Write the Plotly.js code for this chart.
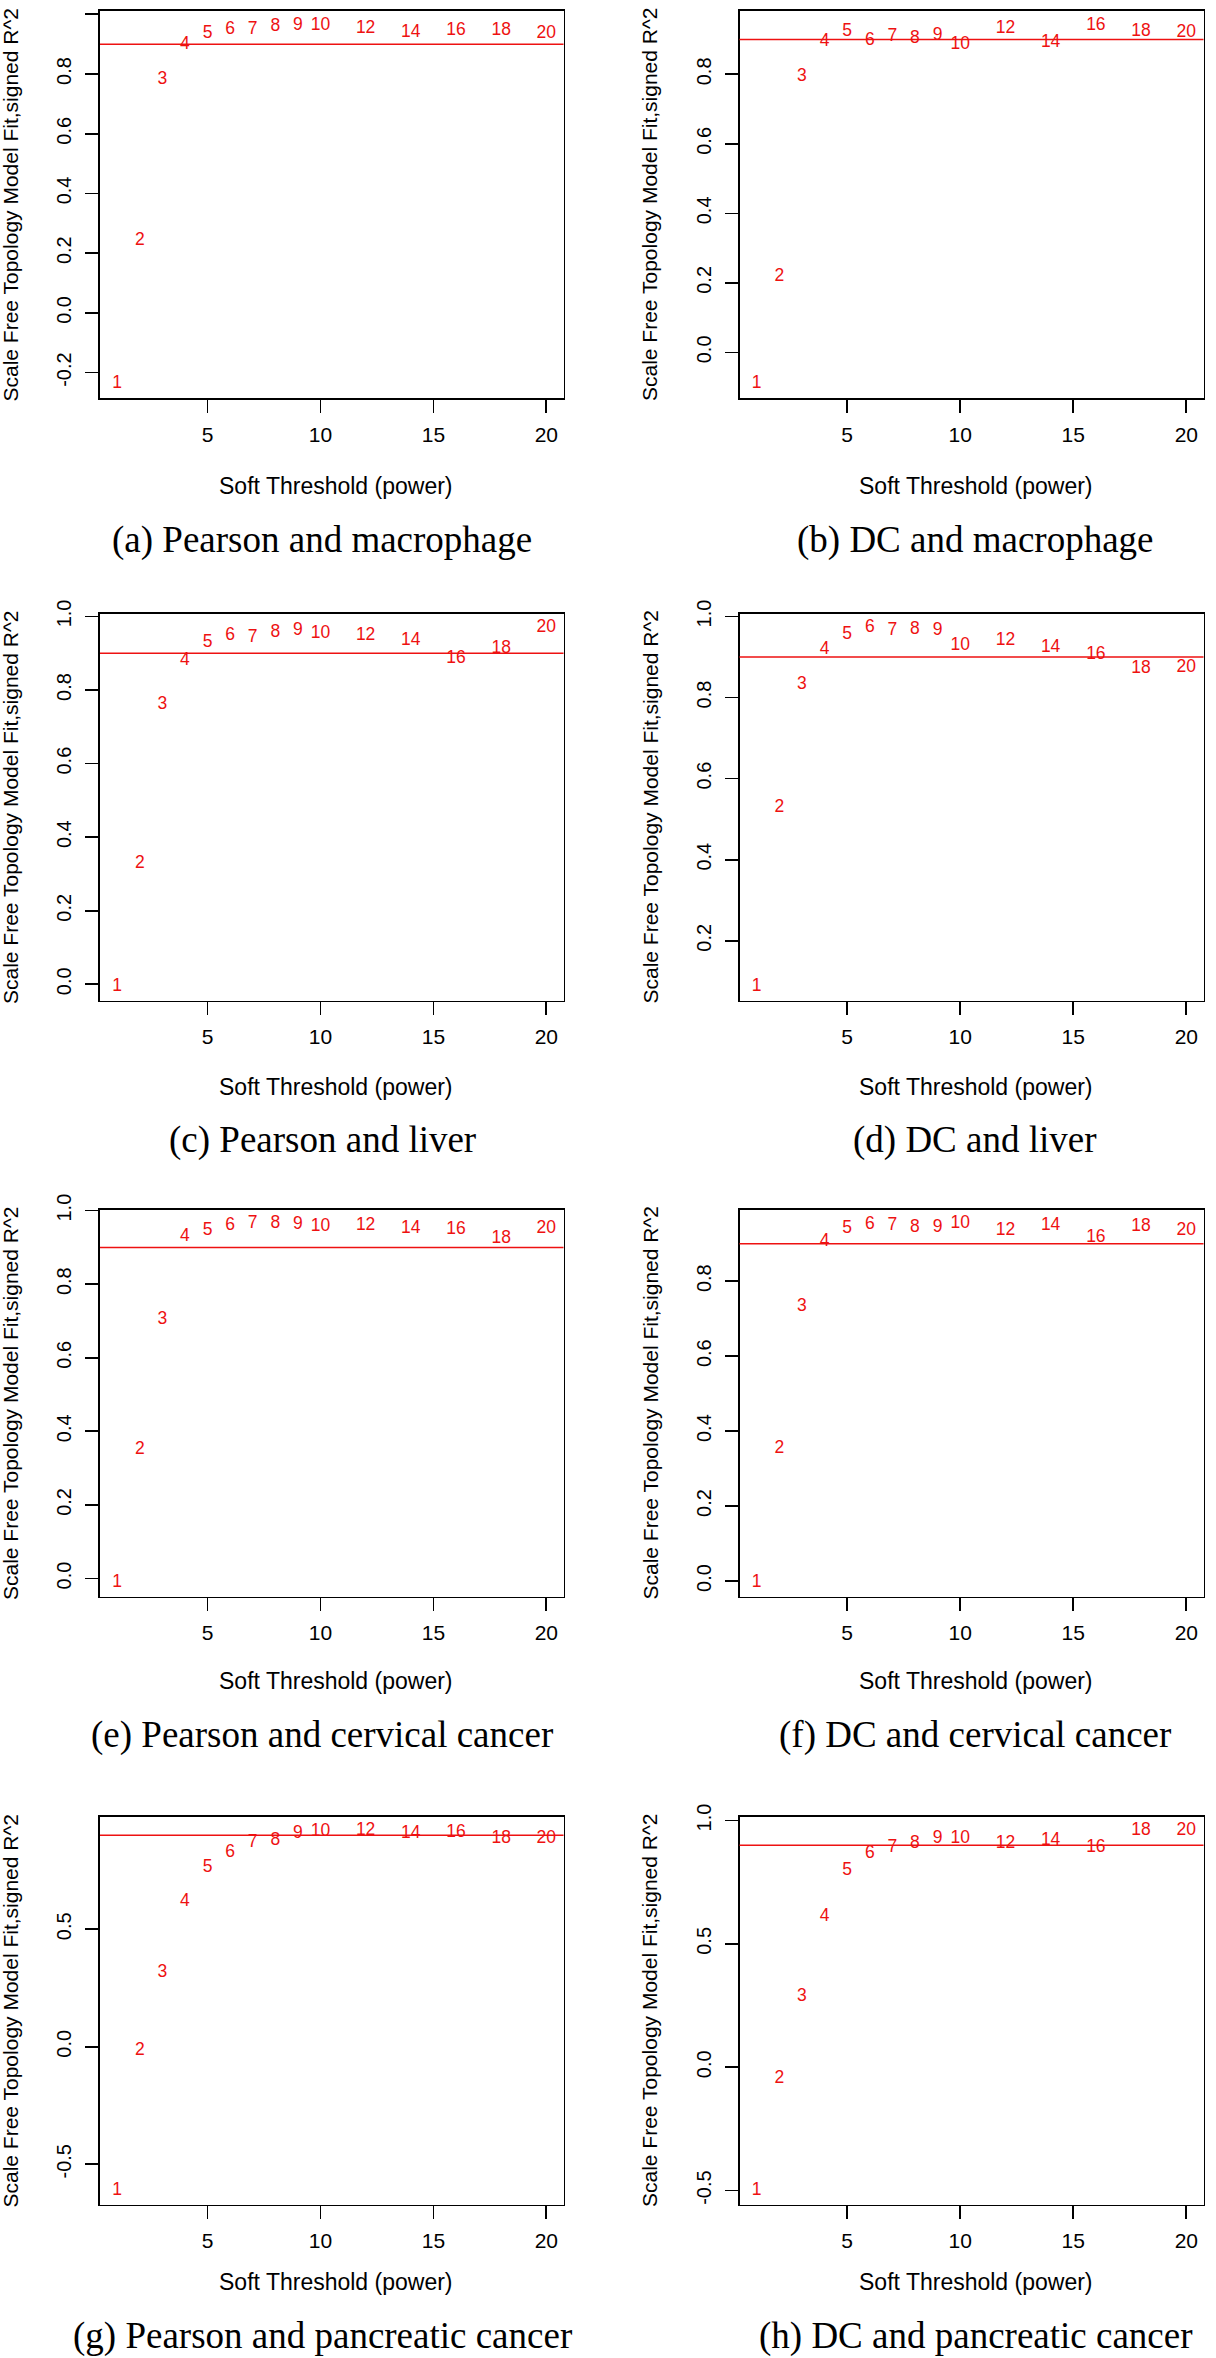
<!DOCTYPE html>
<html>
<head>
<meta charset="utf-8">
<script src="https://cdn.plot.ly/plotly-3.0.1.min.js"></script>
<style>
  html, body { margin: 0; padding: 0; background: #ffffff; }
  #chart { width: 1216px; height: 2358px; }
</style>
</head>
<body>
<div id="chart"></div>
<script>
// ---------------- data ----------------
const powers = [1, 2, 3, 4, 5, 6, 7, 8, 9, 10, 12, 14, 16, 18, 20];
const threshold = 0.9;

const r2PearsonMacrophage  = [-0.237, 0.243, 0.782, 0.899, 0.936, 0.948, 0.948, 0.957, 0.961, 0.963, 0.951, 0.940, 0.946, 0.946, 0.936];
const r2DCMacrophage       = [-0.090, 0.218, 0.793, 0.893, 0.923, 0.896, 0.909, 0.904, 0.911, 0.885, 0.932, 0.890, 0.941, 0.922, 0.920];
const r2PearsonLiver       = [-0.005, 0.327, 0.760, 0.880, 0.928, 0.949, 0.943, 0.955, 0.961, 0.952, 0.949, 0.935, 0.885, 0.912, 0.969];
const r2DCLiver            = [ 0.088, 0.529, 0.832, 0.919, 0.955, 0.972, 0.964, 0.968, 0.966, 0.928, 0.941, 0.924, 0.906, 0.872, 0.873];
const r2PearsonCervical    = [-0.010, 0.351, 0.704, 0.929, 0.945, 0.958, 0.964, 0.964, 0.961, 0.956, 0.958, 0.950, 0.948, 0.924, 0.951];
const r2DCCervical         = [-0.003, 0.354, 0.733, 0.905, 0.941, 0.951, 0.949, 0.944, 0.942, 0.953, 0.934, 0.949, 0.915, 0.946, 0.934];
const r2PearsonPancreatic  = [-0.610, -0.015, 0.314, 0.618, 0.761, 0.826, 0.867, 0.878, 0.907, 0.915, 0.919, 0.907, 0.911, 0.886, 0.886];
const r2DCPancreatic       = [-0.498, -0.048, 0.285, 0.610, 0.796, 0.865, 0.889, 0.907, 0.926, 0.926, 0.907, 0.918, 0.889, 0.958, 0.958];

const xTicks = [5, 10, 15, 20];
const xTickText = ["5", "10", "15", "20"];

const yTicksA = [-0.2, 0.0, 0.2, 0.4, 0.6, 0.8, 1.0];
const yTicksB = [0.0, 0.2, 0.4, 0.6, 0.8];
const yTicksC = [0.0, 0.2, 0.4, 0.6, 0.8, 1.0];
const yTicksD = [0.2, 0.4, 0.6, 0.8, 1.0];
const yTicksE = [0.0, 0.2, 0.4, 0.6, 0.8, 1.0];
const yTicksF = [0.0, 0.2, 0.4, 0.6, 0.8];
const yTicksG = [-0.5, 0.0, 0.5];
const yTicksH = [-0.5, 0.0, 0.5, 1.0];

const captions = [
  "(a) Pearson and macrophage", "(b) DC and macrophage",
  "(c) Pearson and liver", "(d) DC and liver",
  "(e) Pearson and cervical cancer", "(f) DC and cervical cancer",
  "(g) Pearson and pancreatic cancer", "(h) DC and pancreatic cancer"
];
const xTitle = "Soft Threshold (power)";
const yTitle = "Scale Free Topology Model Fit,signed R^2";

// ---------------- layout geometry (px) ----------------
const W = 1216, H = 2358;
const colBox = [[100, 563.5], [739.5, 1203.5]];
const rowBox = [[11, 398], [613.5, 1000.5], [1209.5, 1596.5], [1816.5, 2204.5]];
const xTitleGap = [88, 87, 84, 77];
const captionGap = [142, 139, 138, 131];
const captionX = [322, 975];

const panels = [
  {y: r2PearsonMacrophage, ticks: yTicksA},
  {y: r2DCMacrophage, ticks: yTicksB},
  {y: r2PearsonLiver, ticks: yTicksC},
  {y: r2DCLiver, ticks: yTicksD},
  {y: r2PearsonCervical, ticks: yTicksE},
  {y: r2DCCervical, ticks: yTicksF},
  {y: r2PearsonPancreatic, ticks: yTicksG},
  {y: r2DCPancreatic, ticks: yTicksH}
];

const sans = "Liberation Sans, Arial, Helvetica, sans-serif";
const serif = "Liberation Serif, Times New Roman, serif";

function rLabel(v) { return v.toFixed(1).replace("\u2212", "-"); }

const traces = [];
const layout = {
  width: W, height: H,
  margin: {l: 0, r: 0, t: 0, b: 0},
  paper_bgcolor: "#ffffff",
  plot_bgcolor: "#ffffff",
  showlegend: false,
  font: {family: sans, color: "#000000"},
  annotations: [],
  shapes: []
};

panels.forEach((p, i) => {
  const row = Math.floor(i / 2), col = i % 2;
  const sfx = i === 0 ? "" : String(i + 1);
  const xa = "x" + sfx, ya = "y" + sfx;
  const [l, r] = colBox[col];
  const [t, b] = rowBox[row];

  // R-style range: data range extended by 4%
  const xmin = Math.min(...powers), xmax = Math.max(...powers);
  const ymin = Math.min(...p.y), ymax = Math.max(...p.y);
  const dx = (xmax - xmin) * 0.04, dy = (ymax - ymin) * 0.04;

  traces.push({
    type: "scatter", mode: "text",
    x: powers, y: p.y,
    text: powers.map(String),
    textposition: "middle center",
    textfont: {family: sans, size: 17.5, color: "#ee1111"},
    cliponaxis: false,
    hoverinfo: "skip",
    xaxis: xa, yaxis: ya
  });

  const axCommon = {
    showline: true, mirror: true, linecolor: "#000000", linewidth: 1.7,
    ticks: "outside", ticklen: 13, tickwidth: 1.7, tickcolor: "#000000",
    showgrid: false, zeroline: false, fixedrange: true
  };

  layout["xaxis" + sfx] = Object.assign({}, axCommon, {
    domain: [l / W, r / W],
    range: [xmin - dx, xmax + dx],
    anchor: ya,
    tickmode: "array", tickvals: xTicks, ticktext: xTickText,
    tickfont: {family: sans, size: 21, color: "#000000"},
    ticklabelstandoff: 4
  });
  layout["yaxis" + sfx] = Object.assign({}, axCommon, {
    domain: [1 - b / H, 1 - t / H],
    range: [ymin - dy, ymax + dy],
    anchor: xa,
    tickmode: "array", tickvals: p.ticks, ticktext: p.ticks.map(rLabel),
    tickangle: -90,
    tickfont: {family: sans, size: 20, color: "#000000"},
    ticklabelstandoff: 6
  });

  layout.shapes.push({
    type: "line", xref: xa + " domain", yref: ya,
    x0: 0, x1: 1, y0: threshold, y1: threshold,
    line: {color: "#ee1111", width: 1.5}, layer: "above"
  });

  // y-axis title
  layout.annotations.push({
    xref: "paper", yref: "paper",
    x: (l - 90) / W, y: 1 - ((t + b) / 2) / H,
    xanchor: "center", yanchor: "middle",
    text: yTitle, textangle: -90, showarrow: false,
    font: {family: sans, size: 21, color: "#000000"}
  });
  // x-axis title
  layout.annotations.push({
    xref: "paper", yref: "paper",
    x: ((l + r) / 2 + 4) / W, y: 1 - (b + xTitleGap[row]) / H,
    xanchor: "center", yanchor: "middle",
    text: xTitle, showarrow: false,
    font: {family: sans, size: 23, color: "#000000"}
  });
  // caption
  layout.annotations.push({
    xref: "paper", yref: "paper",
    x: captionX[col] / W, y: 1 - (b + captionGap[row]) / H,
    xanchor: "center", yanchor: "middle",
    text: captions[i], showarrow: false,
    font: {family: serif, size: 37, color: "#000000"}
  });
});

Plotly.newPlot("chart", traces, layout, {staticPlot: true, displayModeBar: false});
</script>
</body>
</html>
